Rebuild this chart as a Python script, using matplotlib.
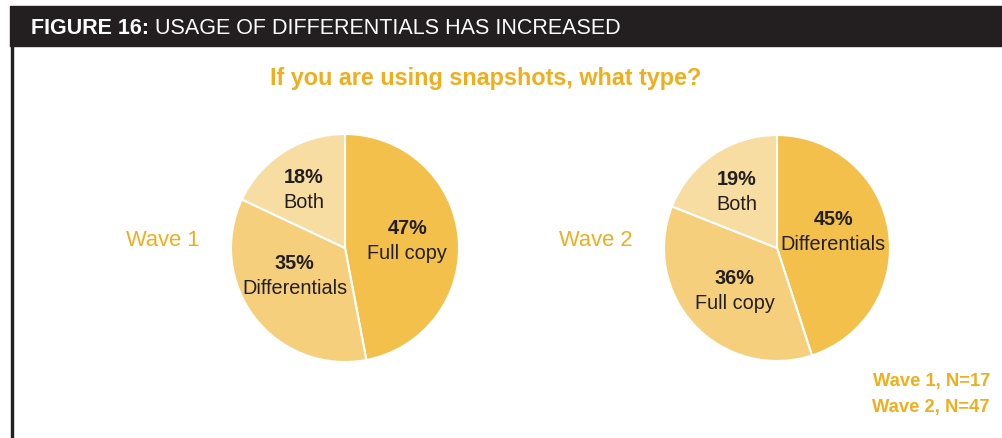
import numpy as np
import matplotlib
matplotlib.use("Agg")
from matplotlib import pyplot as plt
from matplotlib.patches import Rectangle

plt.rcParams['font.family'] = ['Liberation Sans', 'DejaVu Sans']

# Survey answers for each wave
wave1_labels = ["Full copy", "Differentials", "Both"]
wave1_values = [47, 35, 18]
wave2_labels = ["Differentials", "Full copy", "Both"]
wave2_values = [45, 36, 19]
sample_sizes = [17, 47]

slice_colors = ["#F2C04B", "#F5CF7C", "#F8DDA2"]
orange = "#F0AE1E"
dark = "#231F20"

W, H = 1002, 439
fig = plt.figure(figsize=(W / 100, H / 100), dpi=100)


def px_box(x0, y0, w, h):
    # pixel box (top-left origin) -> figure fraction
    return [x0 / W, 1 - (y0 + h) / H, w / W, h / H]


# header bar and left border
bg = fig.add_axes([0, 0, 1, 1])
bg.set_xlim(0, W)
bg.set_ylim(H, 0)
bg.axis("off")
bg.add_patch(Rectangle((10, 7), W - 10, 40, color=dark))
bg.add_patch(Rectangle((11, 46), 2.5, H - 46, color=dark))
bg.text(31, 28, "FIGURE 16:", color="white", fontsize=15.5, fontweight="bold",
        va="center", ha="left")
bg.text(155, 28, "USAGE OF DIFFERENTIALS HAS INCREASED", color="white",
        fontsize=15.5, va="center", ha="left")

bg.text(486, 78, "If you are using snapshots, what type?", color=orange,
        fontsize=16.8, fontweight="bold", ha="center", va="center")
bg.text(126, 241, "Wave 1", color=orange, fontsize=15.8, ha="left", va="center")
bg.text(559, 241, "Wave 2", color=orange, fontsize=15.8, ha="left", va="center")
bg.text(990, 382, f"Wave 1, N={sample_sizes[0]}", color=orange, fontsize=13.2,
        fontweight="bold", ha="right", va="center")
bg.text(990, 408, f"Wave 2, N={sample_sizes[1]}", color=orange, fontsize=13.2,
        fontweight="bold", ha="right", va="center")


def draw_pie(cx, cy, r, values, labels, spots):
    ax = fig.add_axes(px_box(cx - r, cy - r, 2 * r, 2 * r))
    wedges, _ = ax.pie(values, colors=slice_colors, startangle=90, counterclock=False,
                       wedgeprops=dict(edgecolor="white", linewidth=1.5))
    ax.set_xlim(-1, 1)
    ax.set_ylim(-1, 1)
    for w, v, lab, (d, turn) in zip(wedges, values, labels, spots):
        ang = np.deg2rad((w.theta1 + w.theta2) / 2) + turn
        x, y = d * np.cos(ang), d * np.sin(ang)
        ax.text(x, y + 0.11, f"{v}%", fontsize=14.3, fontweight="bold",
                ha="center", va="center", color=dark)
        ax.text(x, y - 0.11, lab, fontsize=14.3, ha="center", va="center",
                color=dark)


draw_pie(345, 249, 114, wave1_values, wave1_labels,
         [(0.55, 0.03), (0.50, -0.17), (0.63, 0.05)])
draw_pie(777, 249, 113, wave2_values, wave2_labels,
         [(0.52, 0.14), (0.53, 0.03), (0.62, 0.02)])

fig.savefig("out.png", dpi=100)
